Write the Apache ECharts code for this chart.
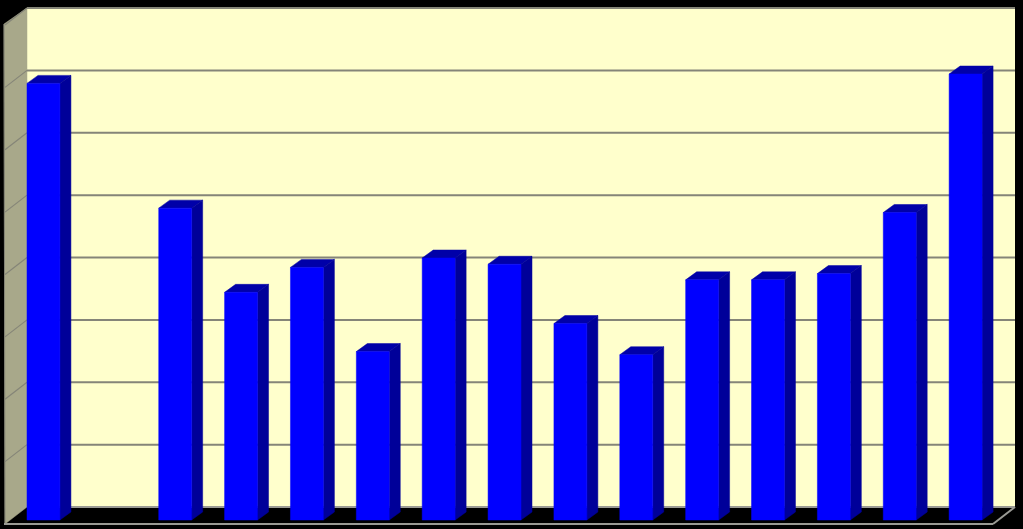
<!DOCTYPE html>
<html><head><meta charset="utf-8">
<style>html,body{margin:0;padding:0;background:#000}#c{width:1023px;height:529px}</style>
<script src="https://cdn.jsdelivr.net/npm/echarts@6/dist/echarts.min.js"></script>
</head><body><div id="c"></div>
<script>
const categories = ['1','2','3','4','5','6','7','8','9','10','11','12','13','14','15'];
const values = [7.0,null,5.0,3.65,4.05,2.7,4.2,4.1,3.15,2.65,3.85,3.85,3.95,4.93,7.15];
const ticks = [0,1,2,3,4,5,6,7,8];

const WALL_DX = 22, WALL_DY = 17;
const BAR_DX = 11, BAR_DY = 8, BAR_FRONT_DY = 13;
const GRID_COLOR = '#858578';
const FLOOR_COLOR = '#9a9a94';

function line(x1,y1,x2,y2,w,c){
  return {type:'line',shape:{x1,y1,x2,y2},style:{stroke:c||GRID_COLOR,lineWidth:w||2}};
}
function poly(points,fill){
  return {type:'polygon',shape:{points},style:{fill,stroke:fill,lineWidth:0.5}};
}
const chart = echarts.init(document.getElementById('c'),null,{renderer:'canvas'});
chart.setOption({
  animation:false,
  backgroundColor:'#000000',
  grid:{left:27,top:8,width:988,height:499,backgroundColor:'#ffffcc',show:true,borderWidth:0},
  xAxis:{type:'category',data:categories,axisLine:{show:false},axisTick:{show:false},axisLabel:{show:false},splitLine:{show:false}},
  yAxis:{type:'value',min:0,max:8,interval:1,axisLine:{show:false},axisTick:{show:false},axisLabel:{show:false},
    splitLine:{show:false}},
  series:[
    {type:'custom',silent:true,z:1,data:ticks.map(t=>[0,t]),encode:{x:0,y:1},
     renderItem(params,api){
       const g=params.coordSys, y=api.coord([0,api.value(1)])[1], t=api.value(1);
       const L=g.x,R=g.x+g.width,B=g.y+g.height;
       const kids=[];
       if(params.dataIndex===0){
         kids.push(poly([[L-WALL_DX-1,g.y+WALL_DY-1],[L,g.y],[L,B],[L-WALL_DX,B+WALL_DY]],'#a8a88a'));
         kids.push(line(L-WALL_DX-1,g.y+WALL_DY-1,L-WALL_DX,B+WALL_DY,1));
       }
       if(t===0){
         kids.push(line(L,B,R,B,2,FLOOR_COLOR));
         kids.push(line(L-WALL_DX-1,B+WALL_DY,R-WALL_DX,B+WALL_DY,2,FLOOR_COLOR));
         kids.push(line(R-WALL_DX,B+WALL_DY,R,B,2,FLOOR_COLOR));
       } else {
         kids.push(line(L,y,R,y));
         kids.push(line(L,y,L-WALL_DX,y+WALL_DY,1.2));
       }
       return {type:'group',children:kids};
     }},
    {type:'custom',z:2,data:values.map((v,i)=>[i,v]),encode:{x:0,y:1},
     renderItem(params,api){
       if(api.value(1)==null||isNaN(api.value(1))) return null;
       const top=api.coord([api.value(0),api.value(1)]);
       const base=api.coord([api.value(0),0]);
       const band=api.size([1,0])[0];
       const w=band/2, xL=top[0]-band/2, xR=xL+w;
       const yT=top[1]+BAR_FRONT_DY, yB=base[1]+BAR_FRONT_DY;
       return {type:'group',children:[
         poly([[xL,yT],[xL+BAR_DX,yT-BAR_DY],[xR+BAR_DX,yT-BAR_DY],[xR,yT]],'#0000a8'),
         poly([[xR,yT],[xR+BAR_DX,yT-BAR_DY],[xR+BAR_DX,yB-BAR_DY],[xR,yB]],'#000099'),
         poly([[xL,yT],[xR,yT],[xR,yB],[xL,yB]],'#0000ff')
       ]};
     }}
  ]
});
</script></body></html>
